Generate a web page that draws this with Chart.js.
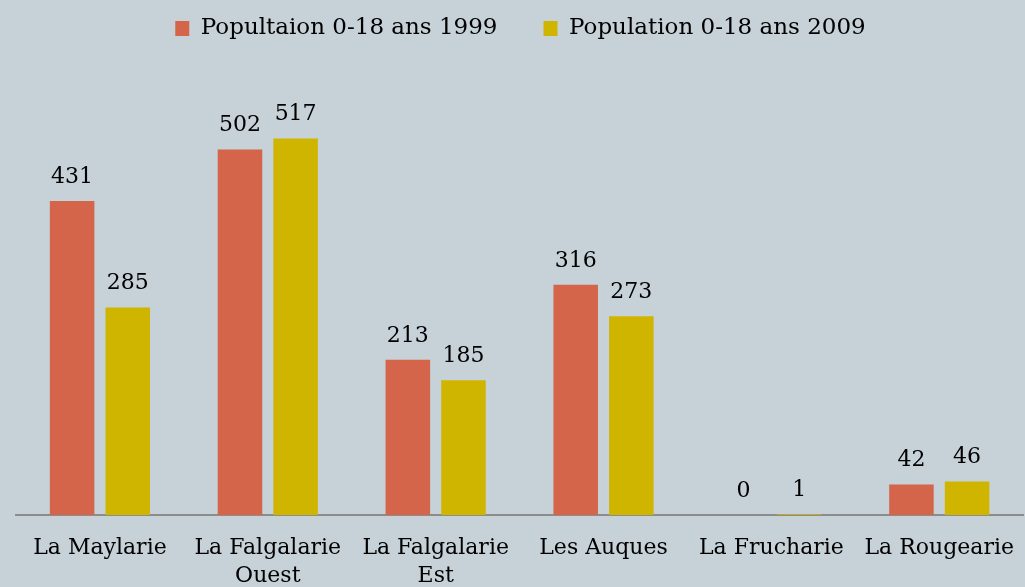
<!DOCTYPE html>
<html>
<head>
<meta charset="utf-8">
<script src="https://cdn.jsdelivr.net/npm/chart.js@4"></script>
<style>
  html, body { margin: 0; padding: 0; background: #C6D1D8; }
  #wrap { width: 1025px; height: 587px; position: relative; }
</style>
</head>
<body>
<div id="wrap"><canvas id="c"></canvas></div>
<script>
const categories = ["La Maylarie", ["La Falgalarie", "Ouest"], ["La Falgalarie", "Est"], "Les Auques", "La Frucharie", "La Rougearie"];
const series1999Label = "Popultaion 0-18 ans 1999";
const series2009Label = "Population 0-18 ans 2009";
const values1999 = [431, 502, 213, 316, 0, 42];
const values2009 = [285, 517, 185, 273, 1, 46];

const FONT = "'DejaVu Serif', Georgia, serif";
const LEGEND_PAD = 46;

const valueLabels = {
  id: 'valueLabels',
  afterDatasetsDraw(chart) {
    const ctx = chart.ctx;
    ctx.save();
    ctx.font = "22px " + FONT;
    ctx.fillStyle = "#000";
    ctx.textAlign = "center";
    ctx.textBaseline = "middle";
    chart.data.datasets.forEach((ds, i) => {
      chart.getDatasetMeta(i).data.forEach((bar, j) => {
        ctx.fillText(String(ds.data[j]), bar.x, bar.y - 24);
      });
    });
    ctx.restore();
  }
};

const legendTweak = {
  id: 'legendTweak',
  afterInit(chart) {
    const lg = chart.legend;
    if (!lg) return;
    const origFit = lg.fit;
    lg.fit = function () {
      origFit.call(this);
      this.height = 74;
    };
    const origDraw = lg.draw;
    lg.draw = function () {
      const ctx = this.ctx;
      ctx.save();
      ctx.translate(0, -(LEGEND_PAD - 13));
      origDraw.apply(this, arguments);
      ctx.restore();
    };
  }
};

new Chart(document.getElementById('c'), {
  type: 'bar',
  data: {
    labels: categories,
    datasets: [
      { label: series1999Label, data: values1999, backgroundColor: '#D4654B', categoryPercentage: 0.663, barPercentage: 0.8 },
      { label: series2009Label, data: values2009, backgroundColor: '#CFB500', categoryPercentage: 0.663, barPercentage: 0.8 }
    ]
  },
  options: {
    responsive: true,
    maintainAspectRatio: false,
    animation: false,
    layout: { padding: { left: 16, right: 0, top: 4, bottom: 0 } },
    plugins: {
      legend: {
        position: 'top',
        labels: {
          font: { family: FONT, size: 23 },
          color: '#000',
          boxWidth: 14,
          boxHeight: 15,
          padding: LEGEND_PAD
        }
      },
      tooltip: { enabled: false }
    },
    scales: {
      x: {
        grid: { display: false },
        border: { display: true, color: '#8C8C8C', width: 2 },
        ticks: { color: '#000', font: { family: FONT, size: 22, lineHeight: 1.27 }, padding: 11, maxRotation: 0, autoSkip: false },
        afterFit(scale) { scale.height = 72; }
      },
      y: {
        display: false,
        min: 0,
        max: 600
      }
    }
  },
  plugins: [valueLabels, legendTweak]
});
</script>
</body>
</html>
